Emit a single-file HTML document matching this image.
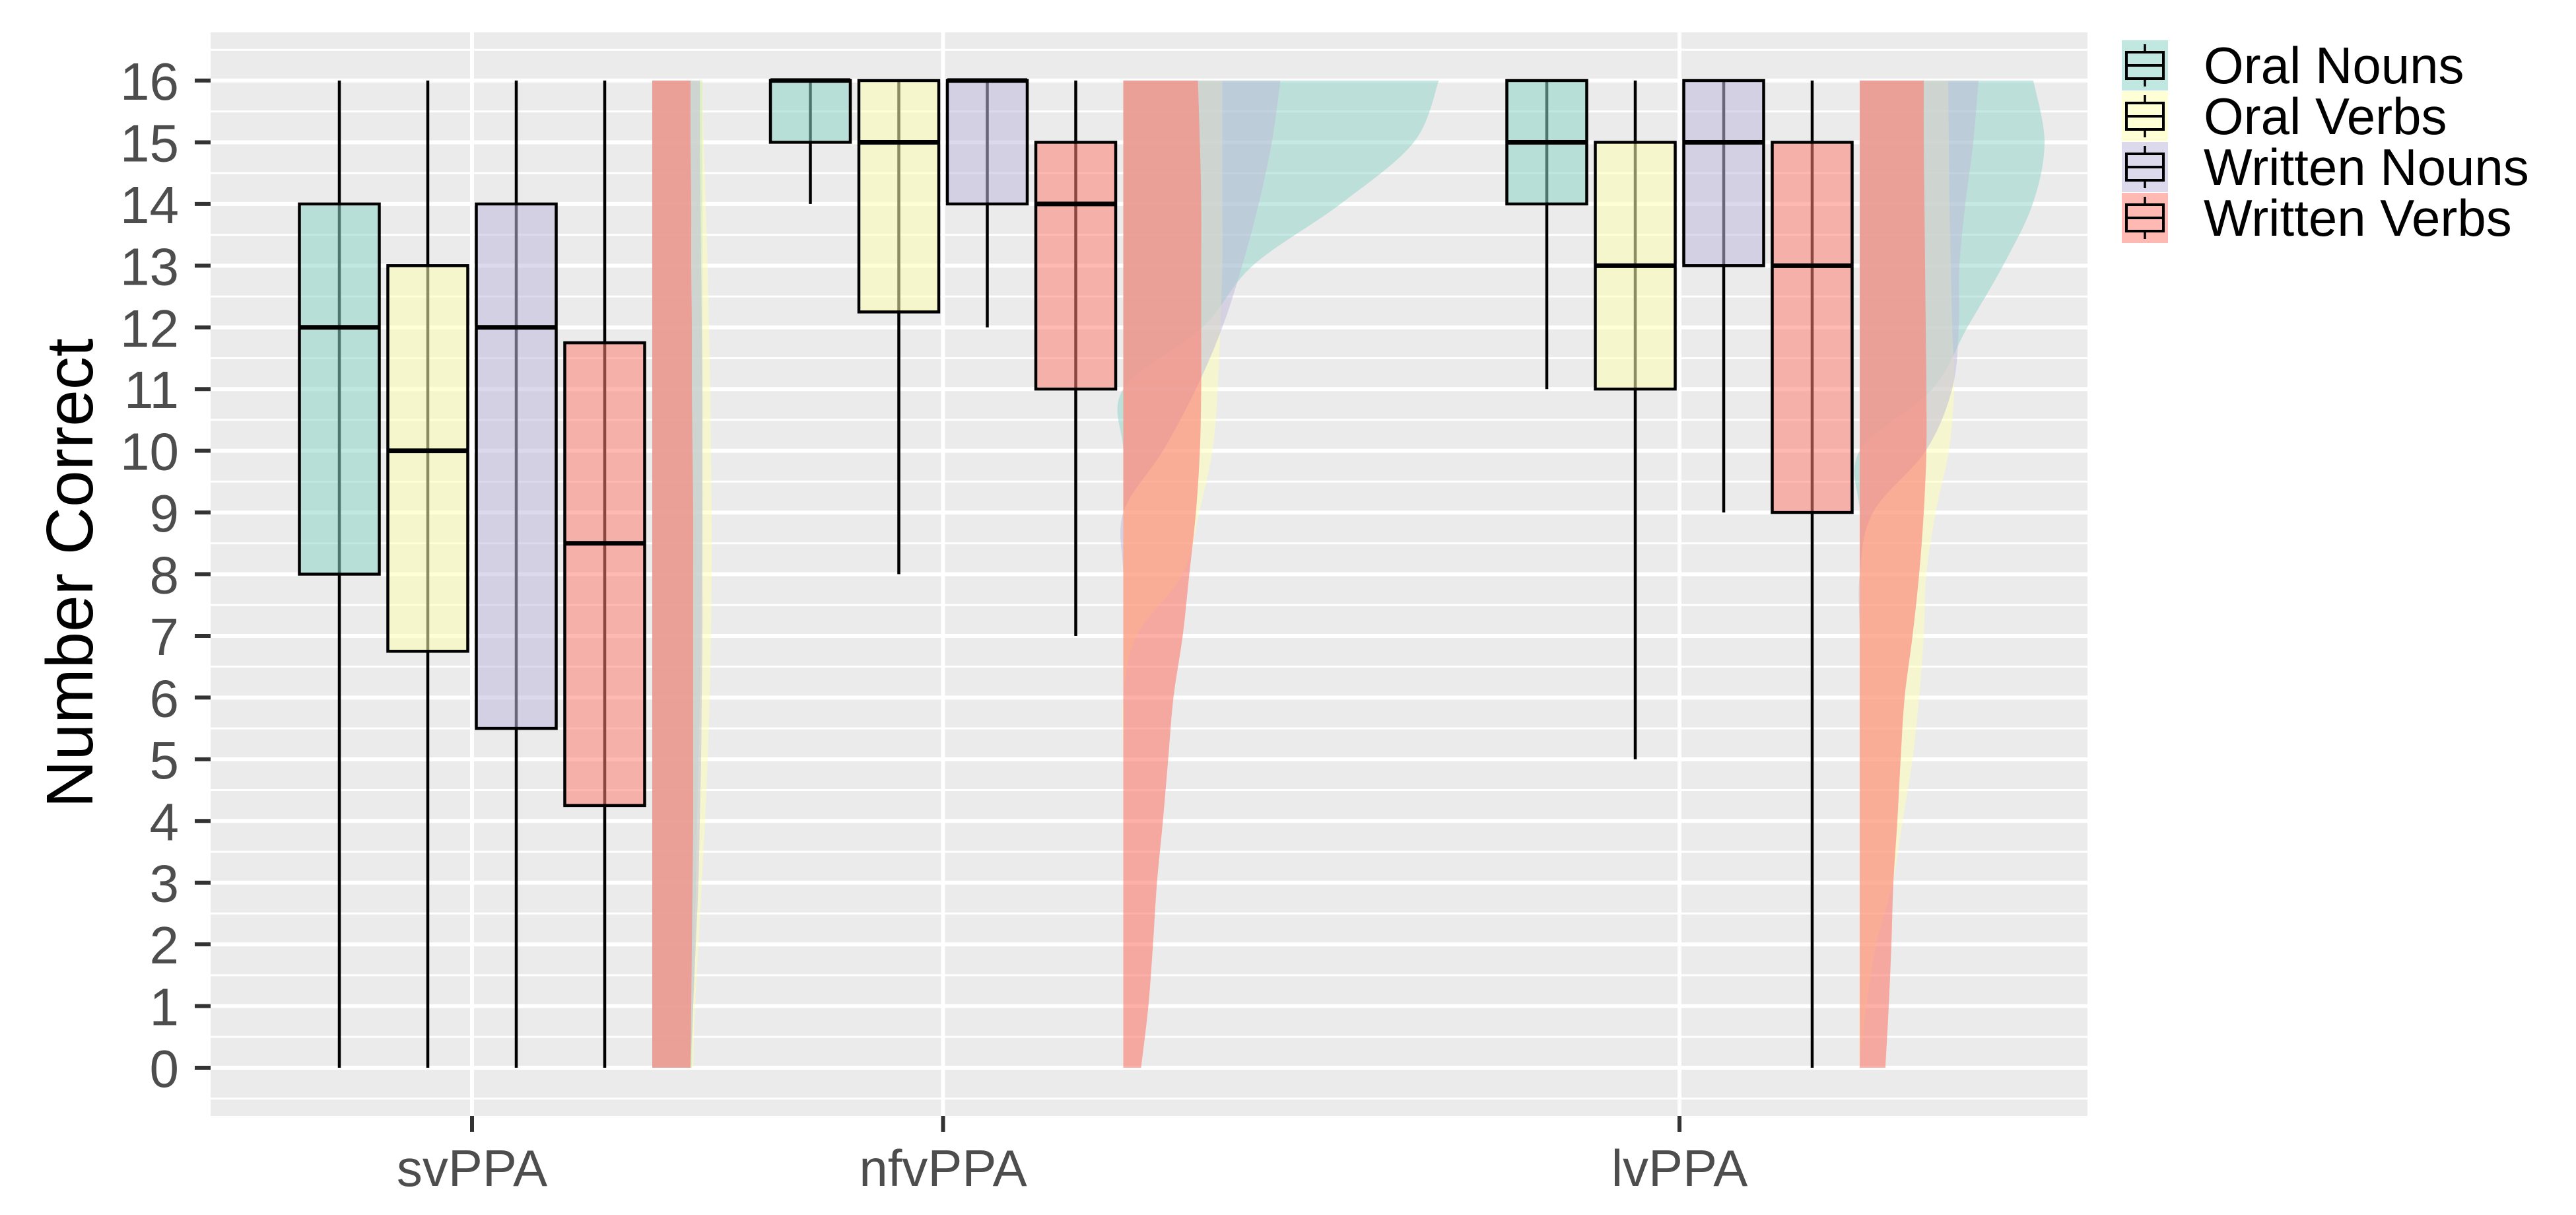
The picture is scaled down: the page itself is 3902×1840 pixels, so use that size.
<!DOCTYPE html>
<html><head><meta charset="utf-8"><style>
html,body{margin:0;padding:0;background:#fff}
svg{display:block}
text{font-family:"Liberation Sans",Arial,sans-serif}
</style></head><body>
<svg id="chart" width="3902" height="1840" viewBox="0 0 3902 1840" xmlns="http://www.w3.org/2000/svg"></svg>
<script>
const groups = ["svPPA","nfvPPA","lvPPA"];
const series = ["Oral Nouns","Oral Verbs","Written Nouns","Written Verbs"];
const colors = ["#8dd3c7","#ffffb3","#bebada","#fb8072"];
const yTicks = [0,1,2,3,4,5,6,7,8,9,10,11,12,13,14,15,16];
// box stats: [min, q1, median, q3, max]
const svStats = [[0,8,12,14,16],[0,6.75,10,13,16],[0,5.5,12,14,16],[0,4.25,8.5,11.75,16]];
const nfvStats = [[14,15,16,16,16],[8,12.25,15,16,16],[12,14,16,16,16],[7,11,14,15,16]];
const lvStats = [[11,14,15,16,16],[5,11,13,15,16],[9,13,15,16,16],[0,9,13,15,16]];
// half-violin densities at y = 0..16 (relative units)
const svDens = [
 [60,62,64,66,68,70,72,74,75,76,76,76,76,76,76,76,76],
 [62,65,70,75,80,84,87,89,90,90,89,88,86,84,81,78,76],
 [58,62,66,70,72,74,75,76,76,76,76,76,75,74,73,72,72],
 [58,59,60,61,62,62,62,62,62,62,61,60,60,59,59,58,58]];
const nfvDens = [
 [0,0,0,0,0,0,0,0,0,0,0,0,120,196,329,440,478],
 [0,0,0,0,0,0,0,20,90,115,135,143,147,150,150,150,150],
 [0,0,0,0,0,0,0,0,0,0,60,110,150,180,205,225,238],
 [27,38,45,51,60,68,76,90,100,110,116,118,118,118,118,116,113]];
const lvDens = [
 [0,0,0,0,0,0,0,0,0,0,0,110,163,217,262,280,263],
 [0,10,25,50,65,80,90,97,101,115,135,143,140,138,136,135,134],
 [0,0,0,0,0,0,0,0,0,20,100,140,150,151,160,172,180],
 [39,44,48,51,57,62,68,80,90,97,101,101,100,99,98,97,97]];

const statsAll=[svStats,nfvStats,lvStats], densAll=[svDens,nfvDens,lvDens];
const NS="http://www.w3.org/2000/svg";
const svg=document.getElementById('chart');
const P={l:319,r:3162,t:49,b:1690};
const groupX=[715,1428.5,2544];
const y0px=1617, unit=(1617-122)/16;
function yS(v){return y0px-v*unit;}
function xG(g){return groupX[g];}
const offs=[-201,-67,67,201], boxW=121, violOff=273;
function mk(tag,attrs,parent){const e=document.createElementNS(NS,tag);for(const k in attrs)e.setAttribute(k,attrs[k]);(parent||svg).appendChild(e);return e;}

// panel
const panel=mk('rect',{x:P.l,y:P.t,width:P.r-P.l,height:P.b-P.t,fill:'#ebebeb'});


for(let v=-0.5;v<=16.5;v+=1){
 const l=mk('line',{x1:P.l,x2:P.r,y1:yS(v),y2:yS(v),stroke:'#fff','stroke-width':3});
 
 
}
yTicks.forEach(v=>{
 const l=mk('line',{x1:P.l,x2:P.r,y1:yS(v),y2:yS(v),stroke:'#fff','stroke-width':6});
 
 
 const t=mk('line',{x1:295,x2:319,y1:yS(v),y2:yS(v),stroke:'#333','stroke-width':6});
 
 
 const tx=mk('text',{x:271,y:yS(v)+29,'text-anchor':'end','font-size':80,fill:'#4d4d4d'});
 tx.textContent=v;
 
 
});
groups.forEach((g,i)=>{
 const l=mk('line',{x1:xG(i),x2:xG(i),y1:P.t,y2:P.b,stroke:'#fff','stroke-width':6});
 
 
 const t=mk('line',{x1:xG(i),x2:xG(i),y1:P.b,y2:P.b+24,stroke:'#333','stroke-width':6});
 
 
 const tx=mk('text',{x:xG(i),y:1796,'text-anchor':'middle','font-size':78,fill:'#4d4d4d'});
 tx.textContent=g;
 
 
});

// violins
const dScale=1.0;
densAll.forEach((dens,gi)=>{
 const bx=xG(gi)+violOff;
 dens.forEach((arr,si)=>{
  const pts=arr.map((d,k)=>[bx+d*dScale,yS(yTicks[k])]);
  let d=`M${bx},${yS(0)} L${pts[0][0]},${pts[0][1]}`;
  for(let k=0;k<pts.length-1;k++){
   const p0=pts[Math.max(0,k-1)],p1=pts[k],p2=pts[k+1],p3=pts[Math.min(pts.length-1,k+2)];
   const c1=[p1[0]+(p2[0]-p0[0])/6,p1[1]+(p2[1]-p0[1])/6];
   const c2=[p2[0]-(p3[0]-p1[0])/6,p2[1]-(p3[1]-p1[1])/6];
   d+=` C${c1[0]},${c1[1]} ${c2[0]},${c2[1]} ${p2[0]},${p2[1]}`;
  }
  d+=` L${bx},${yS(16)} Z`;
  const p=mk('path',{d:d,fill:colors[si],'fill-opacity':si===3?0.62:0.5});
  
  
 });
});

// boxes
statsAll.forEach((st,gi)=>{
 st.forEach((s,si)=>{
  const cx=xG(gi)+offs[si];
  const w=mk('line',{x1:cx,x2:cx,y1:yS(s[0]),y2:yS(s[4]),stroke:'#000','stroke-width':4.5});
  
  
  const r=mk('rect',{x:cx-boxW/2,y:yS(s[3]),width:boxW,height:Math.max(0,yS(s[1])-yS(s[3])),fill:colors[si],'fill-opacity':0.55,stroke:'#000','stroke-width':4.5});
  
  
  const m=mk('line',{x1:cx-boxW/2,x2:cx+boxW/2,y1:yS(s[2]),y2:yS(s[2]),stroke:'#000','stroke-width':7});
  
  
 });
});

// y title
const yt=mk('text',{x:0,y:0,transform:'translate(140,868) rotate(-90)','text-anchor':'middle','font-size':100,fill:'#000'});
yt.textContent='Number Correct';



// legend
const lg=mk('g',{});


series.forEach((s,i)=>{
 const cy=99+i*77;
 const e=mk('g',{},lg);
 
 
 mk('rect',{x:3214,y:cy-38,width:70,height:76,fill:colors[i],'fill-opacity':0.55},e);
 mk('rect',{x:3221,y:cy-20,width:56,height:40,fill:'none',stroke:'#000','stroke-width':4},e);
 mk('line',{x1:3221,x2:3277,y1:cy,y2:cy,stroke:'#000','stroke-width':4},e);
 mk('line',{x1:3249,x2:3249,y1:cy-32,y2:cy-20,stroke:'#000','stroke-width':3.5},e);
 mk('line',{x1:3249,x2:3249,y1:cy+20,y2:cy+32,stroke:'#000','stroke-width':3.5},e);
 const t=mk('text',{x:3338,y:cy+27,'font-size':78,fill:'#000'},e);
 t.textContent=s;
});
</script>
</body></html>
